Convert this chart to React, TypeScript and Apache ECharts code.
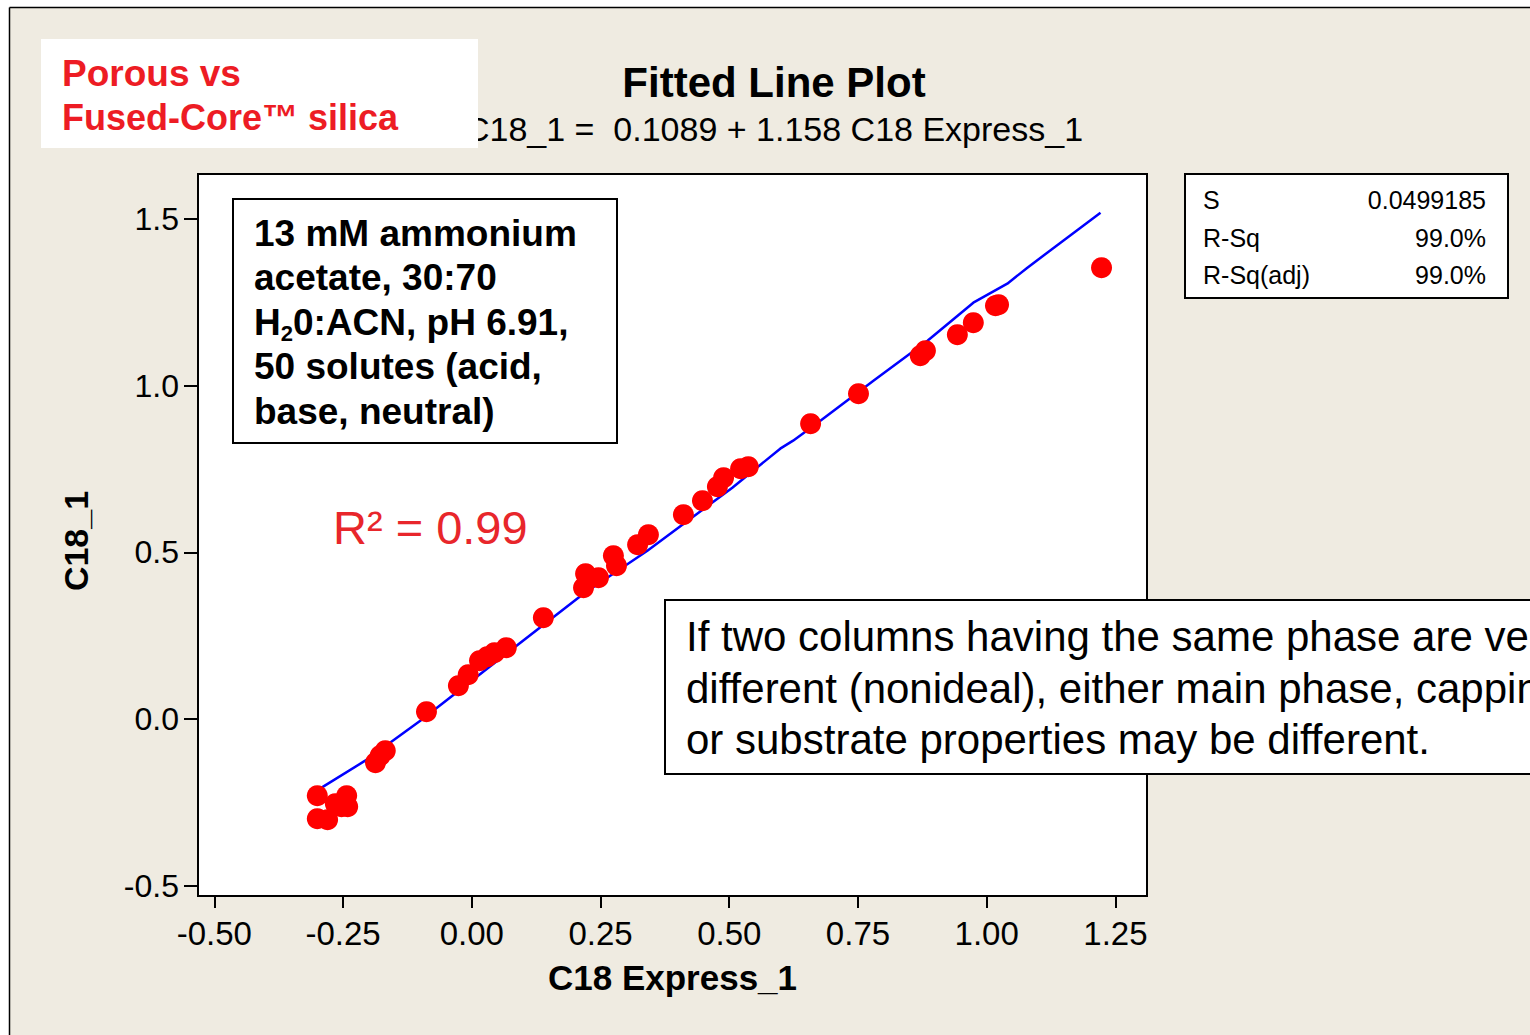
import React, { useEffect, useRef } from "react";
import * as echarts from "echarts";

// Axis tick values
const xTickValues = [-0.5, -0.25, 0, 0.25, 0.5, 0.75, 1.0, 1.25];
const yTickValues = [-0.5, 0.0, 0.5, 1.0, 1.5];

// Observed points: C18 Express_1 (x) vs C18_1 (y)
const c18Express = [
  -0.300, -0.300, -0.280, -0.265, -0.253, -0.243, -0.241,
  -0.168, -0.178, -0.187, -0.088,
  -0.026, -0.007, 0.015, 0.030, 0.044, 0.067,
  0.139, 0.217, 0.221, 0.246, 0.275, 0.281, 0.322, 0.343,
  0.411, 0.448, 0.477, 0.489, 0.522, 0.537,
  0.658, 0.751, 0.871, 0.881, 0.943, 0.974, 1.017, 1.023, 1.223,
];
const c18 = [
  -0.230, -0.299, -0.302, -0.254, -0.263, -0.230, -0.263,
  -0.095, -0.110, -0.131, 0.022,
  0.100, 0.133, 0.175, 0.187, 0.199, 0.214,
  0.304, 0.394, 0.436, 0.424, 0.490, 0.460, 0.523, 0.553,
  0.613, 0.655, 0.697, 0.724, 0.751, 0.757,
  0.886, 0.976, 1.090, 1.105, 1.153, 1.189, 1.240, 1.243, 1.354,
];

// Fitted line as drawn in the picture
const fitX = [-0.298, -0.207, -0.100, 0.217, 0.341, 0.506, 0.599, 0.624, 0.677, 0.780, 0.885, 0.974, 1.040, 1.079, 1.221];
const fitY = [-0.212, -0.125, -0.005, 0.376, 0.505, 0.694, 0.811, 0.835, 0.895, 1.015, 1.135, 1.249, 1.306, 1.354, 1.519];

const statNames = ["S", "R-Sq", "R-Sq(adj)"];
const statValues = ["0.0499185", "99.0%", "99.0%"];

const FONT = "'Liberation Sans', Arial, sans-serif";

export default function App() {
  const ref = useRef<HTMLDivElement>(null);

  useEffect(() => {
    if (!ref.current) return;
    const chart = echarts.init(ref.current, null, { renderer: "svg" });

    const points = c18Express.map((x, i) => [x, c18[i]]);
    const fit = fitX.map((x, i) => [x, fitY[i]]);

    const statTexts: any[] = [];
    statNames.forEach((n, i) => {
      statTexts.push({
        type: "text", x: 1203, y: 200 + i * 37.5, z: 21,
        style: { text: n, font: `25px ${FONT}`, fill: "#000", align: "left", verticalAlign: "middle" },
      });
      statTexts.push({
        type: "text", x: 1486, y: 200 + i * 37.5, z: 21,
        style: { text: statValues[i], font: `25px ${FONT}`, fill: "#000", align: "right", verticalAlign: "middle" },
      });
    });

    const option: any = {
      animation: false,
      backgroundColor: "#efebe1",
      grid: {
        left: 198, top: 174, width: 949, height: 722,
        show: true, backgroundColor: "#ffffff", borderColor: "#000000", borderWidth: 2,
        containLabel: false,
      },
      xAxis: {
        type: "value", min: -0.5317, max: 1.3113,
        name: "C18 Express_1", nameLocation: "middle", nameGap: 64,
        nameTextStyle: { fontFamily: FONT, fontWeight: "bold", fontSize: 35, color: "#000" },
        axisLine: { show: false, onZero: false },
        axisTick: { show: true, inside: false, length: 12, customValues: xTickValues, lineStyle: { color: "#000", width: 2 } },
        axisLabel: {
          show: true, customValues: xTickValues, margin: 21,
          formatter: (v: number) => v.toFixed(2),
          fontFamily: FONT, fontSize: 33, color: "#000",
        },
        splitLine: { show: false },
      },
      yAxis: {
        type: "value", min: -0.531, max: 1.635,
        name: "C18_1", nameLocation: "middle", nameGap: 105, nameRotate: 90,
        nameTextStyle: { fontFamily: FONT, fontWeight: "bold", fontSize: 34, color: "#000", padding: [0, 12, 0, 0] },
        axisLine: { show: false, onZero: false },
        axisTick: { show: true, inside: false, length: 14, customValues: yTickValues, lineStyle: { color: "#000", width: 2 } },
        axisLabel: {
          show: true, customValues: yTickValues, margin: 19,
          formatter: (v: number) => v.toFixed(1),
          fontFamily: FONT, fontSize: 32, color: "#000",
        },
        splitLine: { show: false },
      },
      series: [
        {
          type: "line", data: fit, showSymbol: false, symbol: "none", smooth: false,
          lineStyle: { color: "#0000ff", width: 2.5 }, z: 2, silent: true,
        },
        {
          type: "scatter", data: points, symbol: "circle", symbolSize: 21,
          itemStyle: { color: "#ff0000", opacity: 1 }, z: 3,
        },
      ],
      graphic: [
        // outer white margin and page border
        { type: "rect", shape: { x: 0, y: 0, width: 1530, height: 7.5 }, style: { fill: "#ffffff" }, z: 1 },
        { type: "rect", shape: { x: 0, y: 0, width: 9.5, height: 1035 }, style: { fill: "#ffffff" }, z: 1 },
        { type: "line", shape: { x1: 9.5, y1: 7.5, x2: 1530, y2: 7.5 }, style: { stroke: "#000", lineWidth: 1.5 }, z: 2 },
        { type: "line", shape: { x1: 9.5, y1: 7.5, x2: 9.5, y2: 1035 }, style: { stroke: "#000", lineWidth: 1.5 }, z: 2 },
        // title
        {
          type: "text", x: 774, y: 82, z: 10,
          style: { text: "Fitted Line Plot", font: `bold 42px ${FONT}`, fill: "#000", align: "center", verticalAlign: "middle" },
        },
        {
          type: "text", x: 774, y: 129, z: 10,
          style: { text: "C18_1 =  0.1089 + 1.158 C18 Express_1", font: `34px ${FONT}`, fill: "#000", align: "center", verticalAlign: "middle" },
        },
        // top-left label box
        { type: "rect", shape: { x: 41, y: 39, width: 437, height: 109 }, style: { fill: "#ffffff" }, z: 11 },
        {
          type: "text", x: 62, y: 73, z: 12,
          style: { text: "Porous vs", font: `bold 37px ${FONT}`, fill: "#ed1c24", align: "left", verticalAlign: "middle" },
        },
        {
          type: "text", x: 62, y: 117, z: 12,
          style: { text: "Fused-Core\u2122 silica", font: `bold 36px ${FONT}`, fill: "#ed1c24", align: "left", verticalAlign: "middle" },
        },
        // conditions box
        { type: "rect", shape: { x: 233, y: 199, width: 384, height: 244 }, style: { fill: "#ffffff", stroke: "#000", lineWidth: 2 }, z: 20 },
        {
          type: "text", x: 254, y: 211, z: 21,
          style: {
            text: "13 mM ammonium\nacetate, 30:70\nH{sub|2}0:ACN, pH 6.91,\n50 solutes (acid,\nbase, neutral)",
            font: `bold 37px ${FONT}`, fill: "#000", align: "left", verticalAlign: "top", lineHeight: 44.5,
            rich: {
              sub: { fontFamily: FONT, fontWeight: "bold", fontSize: 22, lineHeight: 18, verticalAlign: "bottom", fill: "#000" },
            },
          },
        },
        // R^2
        {
          type: "text", x: 333, y: 527, z: 21,
          style: { text: "R\u00b2 = 0.99", font: `47px ${FONT}`, fill: "#e8262b", align: "left", verticalAlign: "middle" },
        },
        // stats box
        { type: "rect", shape: { x: 1185, y: 174, width: 323, height: 124 }, style: { fill: "#ffffff", stroke: "#000", lineWidth: 2 }, z: 20 },
        ...statTexts,
        // note box
        { type: "rect", shape: { x: 665, y: 600, width: 900, height: 174 }, style: { fill: "#ffffff", stroke: "#000", lineWidth: 2 }, z: 20 },
        {
          type: "text", x: 686, y: 611, z: 21,
          style: {
            text: "If two columns having the same phase are very\ndifferent (nonideal), either main phase, capping\nor substrate properties may be different.",
            font: `42px ${FONT}`, fill: "#000", align: "left", verticalAlign: "top", lineHeight: 51.5,
          },
        },
      ],
    };

    chart.setOption(option);
    return () => chart.dispose();
  }, []);

  return (
    <div
      ref={ref}
      style={{ position: "absolute", left: 0, top: 0, width: 1530, height: 1035, overflow: "hidden" }}
    />
  );
}
